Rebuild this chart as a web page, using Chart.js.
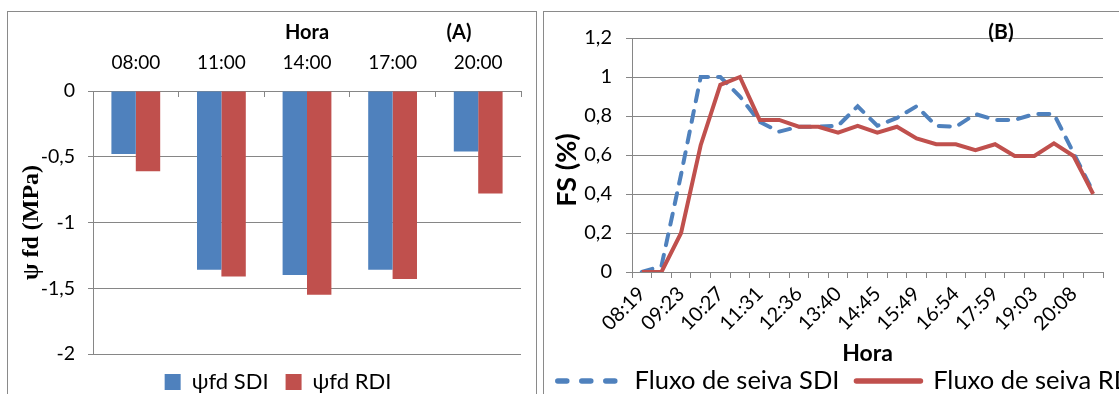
<!DOCTYPE html>
<html><head><meta charset="utf-8">
<script src="https://cdn.jsdelivr.net/npm/chart.js@4"></script>
<style>
html,body{margin:0;padding:0;width:1119px;height:394px;overflow:hidden;background:#fff;}
.panel{position:absolute;border:1px solid #8a8a8a;background:#fff;}
#pa{left:7px;top:11px;width:528px;height:400px;}
#pb{left:543px;top:11px;width:620px;height:400px;}
canvas{display:block;}
</style></head><body>
<div class="panel" id="pa"><canvas id="ca" width="528" height="400" style="width:528px;height:400px"></canvas></div>
<div class="panel" id="pb"><canvas id="cb" width="620" height="400" style="width:620px;height:400px"></canvas></div>
<script>
// ---- Panel A data ----
const horasA = ['08:00', '11:00', '14:00', '17:00', '20:00'];
const psiSDI = [-0.48, -1.36, -1.40, -1.36, -0.46];
const psiRDI = [-0.61, -1.41, -1.55, -1.43, -0.78];
const yTicksA = ['-2', '-1,5', '-1', '-0,5', '0'];

// ---- Panel B data ----
const horasB = ['08:19','08:51','09:23','09:55','10:27','10:59','11:31','12:04','12:36','13:08','13:40','14:13',
                '14:45','15:17','15:49','16:22','16:54','17:26','17:59','18:31','19:03','19:35','20:08','20:40'];
const fsSDI = [0, 0.03, 0.50, 1.00, 1.00, 0.90, 0.77, 0.72, 0.745, 0.745, 0.75, 0.85,
               0.75, 0.79, 0.85, 0.75, 0.745, 0.81, 0.78, 0.78, 0.81, 0.81, 0.61, 0.41];
const fsRDI = [0, 0, 0.20, 0.65, 0.96, 1.00, 0.78, 0.78, 0.745, 0.745, 0.715, 0.75,
               0.715, 0.745, 0.685, 0.655, 0.655, 0.625, 0.655, 0.595, 0.595, 0.66, 0.595, 0.40];
const yTicksB = ['0', '0,2', '0,4', '0,6', '0,8', '1', '1,2'];

const GRID = '#868686';
const FONT = 'Lato';
const BLUE = '#4F81BD', RED = '#C0504D';

const panelLabels = {
  id: 'panelLabels',
  afterDraw(chart, args, opts) {
    const ctx = chart.ctx;
    (opts.items || []).forEach(it => {
      ctx.save();
      ctx.font = it.font;
      ctx.fillStyle = '#000';
      ctx.textAlign = 'center';
      ctx.textBaseline = 'middle';
      ctx.translate(it.x, it.y);
      if (it.rot) ctx.rotate(it.rot);
      ctx.fillText(it.text, 0, 0);
      ctx.restore();
    });
  }
};

function build() {
  new Chart(document.getElementById('ca'), {
    type: 'bar',
    data: {
      labels: horasA,
      datasets: [
        { label: 'ψfd SDI', data: psiSDI, backgroundColor: BLUE, categoryPercentage: 0.57, barPercentage: 1 },
        { label: 'ψfd RDI', data: psiRDI, backgroundColor: RED, categoryPercentage: 0.57, barPercentage: 1 }
      ]
    },
    plugins: [panelLabels],
    options: {
      responsive: false, animation: false,
      layout: { padding: { left: 27, right: 15, top: 9, bottom: 9 } },
      scales: {
        x: {
          position: 'top', offset: true,
          grid: { display: true, drawOnChartArea: false, drawTicks: true, tickLength: -6, offset: true, color: GRID },
          border: { display: false },
          ticks: { font: { family: FONT, size: 19 }, color: '#000', padding: 22.6 },
          title: { display: true, text: 'Hora', color: '#000', font: { family: FONT, size: 20, weight: 'bold' }, padding: { top: 0, bottom: 0 } },
          afterFit: s => { s.height = 70; }
        },
        y: {
          min: -2, max: 0,
          ticks: { stepSize: 0.5, font: { family: FONT, size: 19.5 }, color: '#000', padding: 13,
                   callback: (v, i) => yTicksA[i] },
          grid: { color: GRID, tickLength: 5 },
          border: { display: true, color: GRID },
          title: { display: true, text: 'ψ fd (MPa)', color: '#000',
                   font: { family: 'Liberation Serif', size: 24, weight: 'bold' }, padding: { top: -17.4, bottom: 0 } },
          afterFit: s => { s.width = 58; }
        }
      },
      plugins: {
        legend: { position: 'bottom',
          labels: { font: { family: FONT, size: 22 }, color: '#000', boxWidth: 16, boxHeight: 16, padding: 17 } },
        tooltip: { enabled: false },
        panelLabels: { items: [ { text: '(A)', x: 451, y: 21, font: 'bold 20px Lato' } ] }
      }
    }
  });

  new Chart(document.getElementById('cb'), {
    type: 'line',
    data: {
      labels: horasB,
      datasets: [
        { label: 'Fluxo de seiva SDI', data: fsSDI, borderColor: BLUE, backgroundColor: BLUE, borderWidth: 4,
          borderDash: [11, 10], borderCapStyle: 'round', pointRadius: 0, tension: 0, fill: false, order: 1 },
        { label: 'Fluxo de seiva RDI', data: fsRDI, borderColor: RED, backgroundColor: RED, borderWidth: 4,
          pointRadius: 0, tension: 0, fill: false, order: 0 }
      ]
    },
    plugins: [panelLabels],
    options: {
      responsive: false, animation: false,
      layout: { padding: { left: -10, right: 0, top: 25, bottom: 8.25 } },
      scales: {
        x: {
          offset: true,
          grid: { drawOnChartArea: false, drawTicks: true, tickLength: 6, offset: true, color: GRID },
          border: { display: true, color: GRID },
          ticks: { autoSkip: false, maxRotation: 45, minRotation: 45, font: { family: FONT, size: 20 }, color: '#000', padding: 4,
                   callback: (v, i) => (i % 2 === 0 ? horasB[i] : '') },
          title: { display: true, text: 'Hora', color: '#000', font: { family: FONT, size: 23, weight: 'bold' }, padding: { top: 0, bottom: -16.55 } },
          afterFit: s => { s.height = 79.25; }
        },
        y: {
          min: 0, max: 1.2,
          ticks: { stepSize: 0.2, font: { family: FONT, size: 20 }, color: '#000', padding: 14,
                   callback: (v, i) => yTicksB[i] },
          grid: { color: GRID, tickLength: 6 },
          border: { display: true, color: GRID },
          afterFit: s => { s.width = 98; }
        },
        yR: {
          type: 'linear', position: 'right', display: true,
          grid: { display: false, drawTicks: false }, border: { display: false }, ticks: { display: false },
          afterFit: s => { s.width = 61; }
        }
      },
      plugins: {
        legend: { position: 'bottom',
          labels: { usePointStyle: true, pointStyle: 'line', pointStyleWidth: 64, font: { family: FONT, size: 25.5 }, color: '#000', padding: 17,
                    sort: (a, b) => a.datasetIndex - b.datasetIndex,
                    generateLabels: chart => {
                      const items = Chart.defaults.plugins.legend.labels.generateLabels(chart);
                      items.forEach(it => {
                        const ds = chart.data.datasets[it.datasetIndex];
                        it.strokeStyle = ds.borderColor;
                        it.fillStyle = ds.borderColor;
                        it.lineWidth = 5.5;
                        it.lineCap = 'round';
                        it.lineDash = ds.borderDash ? [9, 15] : [];
                        it.pointStyle = 'line';
                      });
                      return items;
                    } } },
        tooltip: { enabled: false },
        panelLabels: { items: [
          { text: '(B)', x: 457, y: 20, font: 'bold 21px Lato' },
          { text: 'FS (%)', x: 23, y: 158, font: 'bold 27px Lato', rot: -Math.PI / 2 }
        ] }
      }
    }
  });
}
build();
</script>
</body></html>
